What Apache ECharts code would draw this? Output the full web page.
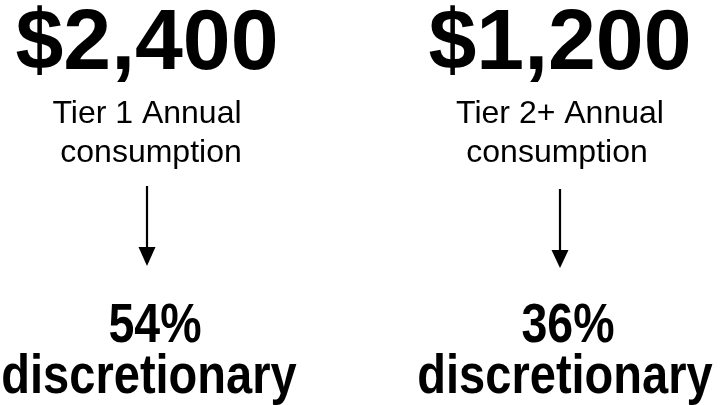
<!DOCTYPE html>
<html>
<head>
<meta charset="utf-8">
<script src="https://cdn.jsdelivr.net/npm/echarts@6/dist/echarts.min.js"></script>
<style>
  html, body { margin: 0; padding: 0; background: #fff; }
  #chart { width: 722px; height: 405px; }
</style>
</head>
<body>
<div id="chart"></div>
<script>
// Values
const amounts = ['$2,400', '$1,200']
const tierLabels = ['Tier 1 Annual', 'Tier 2+ Annual']
const subLabel = 'consumption'
const discretionaryPct = [54, 36]
const bottomLabel = 'discretionary'

const chart = echarts.init(document.getElementById('chart'))

const FONT = '"Liberation Sans", Arial, sans-serif'
const colX = [147, 560]

const elements = []
colX.forEach((cx, i) => {
  // big amount
  elements.push({
    type: 'text',
    x: cx,
    y: 45,
    style: {
      text: amounts[i],
      font: 'bold 86px ' + FONT,
      fill: '#000',
      align: 'center',
      verticalAlign: 'middle'
    }
  })
  // tier label, two lines
  elements.push({
    type: 'text',
    x: cx,
    y: 114,
    style: {
      text: tierLabels[i],
      font: '32px ' + FONT,
      fill: '#000',
      align: 'center',
      verticalAlign: 'middle'
    }
  })
  elements.push({
    type: 'text',
    x: cx + (i === 0 ? 4 : -3),
    y: 153,
    style: {
      text: subLabel,
      font: '32px ' + FONT,
      fill: '#000',
      align: 'center',
      verticalAlign: 'middle'
    }
  })
  // arrow
  const top = i === 0 ? 186 : 189
  const base = i === 0 ? 247 : 250
  const tip = i === 0 ? 266 : 268
  elements.push({
    type: 'line',
    shape: { x1: cx, y1: top, x2: cx, y2: base + 2 },
    style: { stroke: '#000', lineWidth: 2.2 }
  })
  elements.push({
    type: 'polygon',
    shape: { points: [[cx - 8.5, base], [cx + 8.5, base], [cx, tip]] },
    style: { fill: '#000' }
  })
  // percentage + label (narrow bold)
  elements.push({
    type: 'text',
    x: cx + 8,
    y: 327,
    scaleX: 0.83,
    style: {
      text: discretionaryPct[i] + '%',
      font: 'bold 56px ' + FONT,
      fill: '#000',
      align: 'center',
      verticalAlign: 'middle'
    }
  })
  elements.push({
    type: 'text',
    x: cx + (i === 0 ? 2 : 5),
    y: 378,
    scaleX: 0.84,
    style: {
      text: bottomLabel,
      font: 'bold 56px ' + FONT,
      fill: '#000',
      align: 'center',
      verticalAlign: 'middle'
    }
  })
})

chart.setOption({
  backgroundColor: '#fff',
  animation: false,
  graphic: { elements: elements }
})
</script>
</body>
</html>
